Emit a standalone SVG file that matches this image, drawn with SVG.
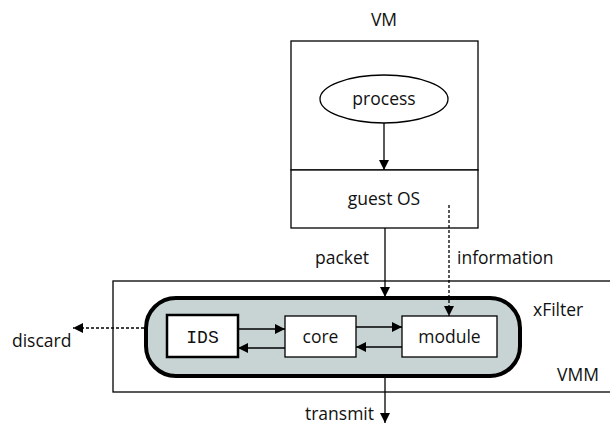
<svg xmlns="http://www.w3.org/2000/svg" width="610" height="425" viewBox="0 0 610 425">
<defs>
<marker id="ah" viewBox="0 0 10 10" refX="10" refY="5" markerWidth="10" markerHeight="10" markerUnits="userSpaceOnUse" orient="auto"><path d="M0,0 L10,5 L0,10 z" fill="#000"/></marker>
</defs>
<style>
text{font-family:"Open Sans","Noto Sans",sans-serif;font-size:17.5px;fill:#111}
.mid{text-anchor:middle}
.box{fill:#fff;stroke:#000;stroke-width:1.3}
.ln{fill:none;stroke:#000;stroke-width:1.3}
.dot{fill:none;stroke:#000;stroke-width:1.3;stroke-dasharray:3,2}
</style>
<rect width="610" height="425" fill="#fff"/>
<g id="vmm"><rect class="box" x="113" y="281" width="500" height="111"/><text x="557" y="381">VMM</text></g>
<g id="vm"><rect class="box" x="291" y="41" width="187" height="129"/><rect class="box" x="291" y="170" width="187" height="58"/><text class="mid" x="384" y="26">VM</text><text class="mid" x="384" y="205">guest OS</text></g>
<g id="process"><ellipse class="box" cx="384" cy="99" rx="64" ry="24"/><text class="mid" x="384" y="105">process</text></g>
<g id="xfilter"><rect x="146" y="298" width="374" height="78" rx="30" fill="#c8d4d4" stroke="#000" stroke-width="4"/><text x="533" y="316">xFilter</text></g>
<g id="ids"><rect x="167" y="315" width="71" height="42" fill="#fff" stroke="#000" stroke-width="2.5"/><text class="mid" x="202.5" y="343" style="font-family:'Liberation Mono',monospace;font-size:18px">IDS</text></g>
<g id="core"><rect class="box" x="285" y="316" width="71" height="41"/><text class="mid" x="320.5" y="343">core</text></g>
<g id="module"><rect class="box" x="402" y="316" width="95" height="41"/><text class="mid" x="449.5" y="343">module</text></g>
<g id="connectors">
<line class="ln" x1="384" y1="123" x2="384" y2="170" marker-end="url(#ah)"/>
<line class="ln" x1="385" y1="228" x2="385" y2="297" marker-end="url(#ah)"/>
<line class="dot" x1="449" y1="205" x2="449" y2="316" marker-end="url(#ah)"/>
<line class="ln" x1="238" y1="329" x2="285" y2="329" marker-end="url(#ah)"/>
<line class="ln" x1="285" y1="348" x2="238" y2="348" marker-end="url(#ah)"/>
<line class="ln" x1="356" y1="327" x2="402" y2="327" marker-end="url(#ah)"/>
<line class="ln" x1="402" y1="347" x2="356" y2="347" marker-end="url(#ah)"/>
<line class="ln" x1="385" y1="377" x2="385" y2="423" marker-end="url(#ah)"/>
<line class="dot" x1="144" y1="328" x2="73" y2="328" marker-end="url(#ah)"/>
<text x="315" y="264">packet</text>
<text x="457" y="264">information</text>
<text x="12" y="347">discard</text>
<text x="374" y="420" text-anchor="end">transmit</text>
</g>
</svg>
